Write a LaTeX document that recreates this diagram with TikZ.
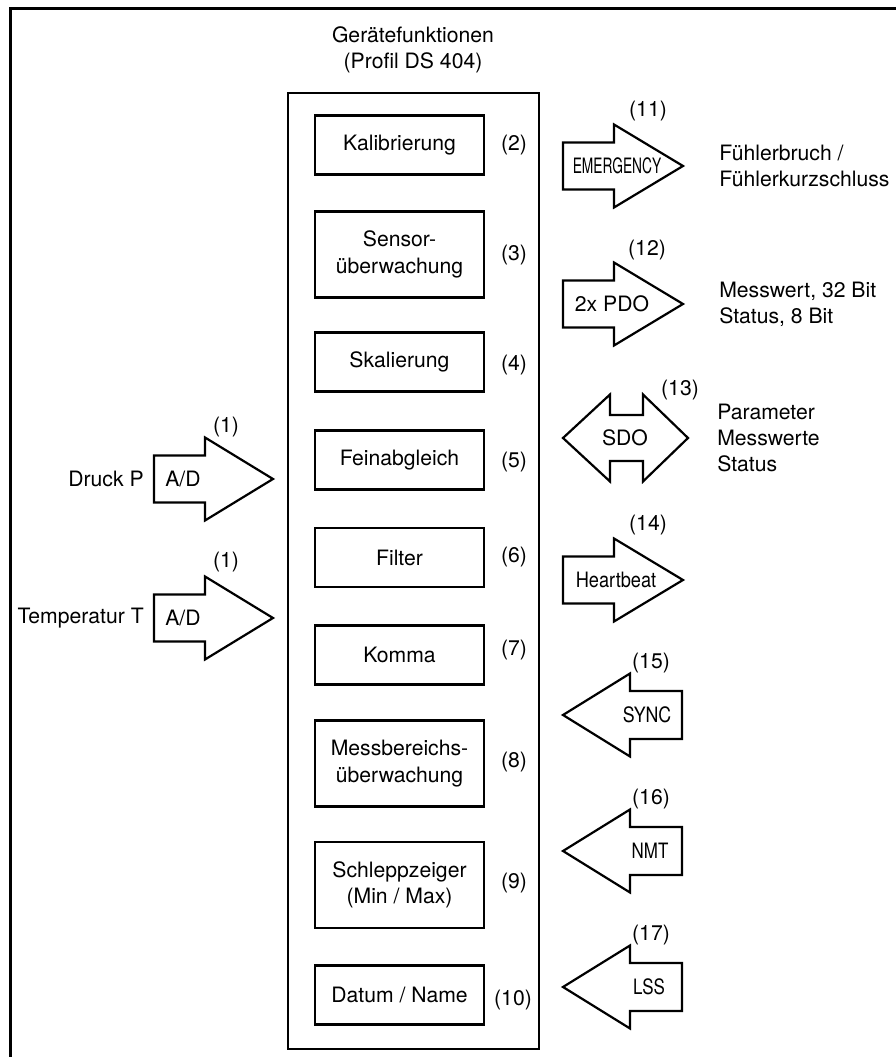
\documentclass[tikz,border=0pt]{standalone}
\usepackage{fontspec}
\setmainfont{TeX Gyre Heros}
\usepackage{tikz}

\tikzset{
	frame/.style = {line width = 0.03in},
	mainbox/.style = {line width = 0.025in},
	funcbox/.style = {draw, line width = 0.025in, minimum width = 1.69in, minimum height = 0.59in, align = center, inner sep = 0},
	tallbox/.style = {funcbox, minimum height = 0.86in},
	blockarrow/.style = {draw, line width = 0.022in, line join = miter, fill = white},
	num/.style = {draw = none, inner sep = 0},
	note/.style = {draw = none, align = left, anchor = west, inner sep = 0}
}

\begin{document}
\begin{tikzpicture}[font = \fontsize{15.3pt}{19pt}\selectfont]
		\useasboundingbox (0in,0in) rectangle (8.96in,10.57in);
		% Outer frame (cut at right and bottom)
		\draw [frame] (0.10in,-0.2in) -- (0.10in,10.48in) -- (9.2in,10.48in);
		% Device functions
		\node [draw = none, align = center] (title) at (4.13in,10.07in) {Gerätefunktionen\\(Profil DS 404)};
		\draw [mainbox] (2.88in,0.08in) rectangle (5.39in,9.64in);
		\node [funcbox] (kalib) at (3.995in,9.12in) {Kalibrierung};
		\node [tallbox] (sensor) at (3.995in,8.025in) {Sensor-\\überwachung};
		\node [funcbox] (skal) at (3.995in,6.95in) {Skalierung};
		\node [funcbox] (fein) at (3.995in,5.97in) {Feinabgleich};
		\node [funcbox] (filter) at (3.995in,4.995in) {Filter};
		\node [funcbox] (komma) at (3.995in,4.02in) {Komma};
		\node [tallbox] (messb) at (3.995in,2.935in) {Messbereichs-\\überwachung};
		\node [tallbox] (schlepp) at (3.995in,1.72in) {Schleppzeiger\\(Min / Max)};
		\node [funcbox] (datum) at (3.995in,0.62in) {Datum / Name};
		% Function numbers
		\node [num] (n2) at (5.14in,9.12in) {(2)};
		\node [num] (n3) at (5.14in,8.02in) {(3)};
		\node [num] (n4) at (5.14in,6.92in) {(4)};
		\node [num] (n5) at (5.14in,5.95in) {(5)};
		\node [num] (n6) at (5.14in,5.00in) {(6)};
		\node [num] (n7) at (5.14in,4.07in) {(7)};
		\node [num] (n8) at (5.14in,2.95in) {(8)};
		\node [num] (n9) at (5.14in,1.74in) {(9)};
		\node [num] (n10) at (5.13in,0.57in) {(10)};
		% Inputs, A/D
		\draw [blockarrow] (1.54in,6.015in) -- ++(0.51in,0in) -- ++(0in,0.18in) -- ++(0.68in,-0.415in) -- ++(-0.68in,-0.415in) -- ++(0in,0.18in) -- ++(-0.51in,0in) -- cycle;
		\node [num] (adp) at (1.83in,5.78in) {A/D};
		\node [num] (n1p) at (2.26in,6.30in) {(1)};
		\node [num, anchor = east] (druck) at (1.44in,5.78in) {Druck P};
		\draw [blockarrow] (1.54in,4.625in) -- ++(0.51in,0in) -- ++(0in,0.18in) -- ++(0.68in,-0.415in) -- ++(-0.68in,-0.415in) -- ++(0in,0.18in) -- ++(-0.51in,0in) -- cycle;
		\node [num] (adt) at (1.83in,4.39in) {A/D};
		\node [num] (n1t) at (2.26in,4.95in) {(1)};
		\node [num, anchor = east] (temp) at (1.44in,4.39in) {Temperatur T};
		% EMERGENCY
		\draw [blockarrow] (5.63in,9.145in) -- ++(0.51in,0in) -- ++(0in,0.18in) -- ++(0.69in,-0.415in) -- ++(-0.69in,-0.415in) -- ++(0in,0.18in) -- ++(-0.51in,0in) -- cycle;
		\node [num] (emcy) at (6.17in,8.91in) {\scalebox{0.65}[1]{EMERGENCY}};
		\node [num] (n11) at (6.48in,9.46in) {(11)};
		\node [note] (emcytext) at (7.19in,8.91in) {Fühlerbruch /\\Fühlerkurzschluss};
		% PDO
		\draw [blockarrow] (5.63in,7.765in) -- ++(0.51in,0in) -- ++(0in,0.18in) -- ++(0.69in,-0.415in) -- ++(-0.69in,-0.415in) -- ++(0in,0.18in) -- ++(-0.51in,0in) -- cycle;
		\node [num] (pdo) at (6.12in,7.53in) {2x PDO};
		\node [num] (n12) at (6.47in,8.07in) {(12)};
		\node [note] (pdotext) at (7.19in,7.53in) {Messwert, 32 Bit\\Status, 8 Bit};
		% SDO
		\draw [blockarrow] (5.63in,6.19in) -- ++(0.47in,0.435in) -- ++(0in,-0.205in) -- ++(0.33in,0in) -- ++(0in,0.205in) -- ++(0.45in,-0.435in) -- ++(-0.45in,-0.435in) -- ++(0in,0.205in) -- ++(-0.33in,0in) -- ++(0in,-0.205in) -- cycle;
		\node [num] (sdo) at (6.25in,6.19in) {SDO};
		\node [num] (n13) at (6.80in,6.67in) {(13)};
		\node [note] (sdotext) at (7.17in,6.19in) {Parameter\\Messwerte\\Status};
		% Heartbeat
		\draw [blockarrow] (5.63in,5.005in) -- ++(0.51in,0in) -- ++(0in,0.18in) -- ++(0.69in,-0.415in) -- ++(-0.69in,-0.415in) -- ++(0in,0.18in) -- ++(-0.51in,0in) -- cycle;
		\node [num] (hb) at (6.16in,4.77in) {\scalebox{0.86}[1]{Heartbeat}};
		\node [num] (n14) at (6.48in,5.32in) {(14)};
		% SYNC
		\draw [blockarrow] (6.82in,3.66in) -- ++(-0.52in,0in) -- ++(0in,0.175in) -- ++(-0.67in,-0.415in) -- ++(0.67in,-0.415in) -- ++(0in,0.175in) -- ++(0.52in,0in) -- cycle;
		\node [num] (sync) at (6.47in,3.42in) {\scalebox{0.84}[1]{SYNC}};
		\node [num] (n15) at (6.51in,3.94in) {(15)};
		% NMT
		\draw [blockarrow] (6.82in,2.30in) -- ++(-0.52in,0in) -- ++(0in,0.175in) -- ++(-0.67in,-0.415in) -- ++(0.67in,-0.415in) -- ++(0in,0.175in) -- ++(0.52in,0in) -- cycle;
		\node [num] (nmt) at (6.50in,2.06in) {\scalebox{0.8}[1]{NMT}};
		\node [num] (n16) at (6.51in,2.58in) {(16)};
		% LSS
		\draw [blockarrow] (6.82in,0.94in) -- ++(-0.52in,0in) -- ++(0in,0.175in) -- ++(-0.67in,-0.415in) -- ++(0.67in,-0.415in) -- ++(0in,0.175in) -- ++(0.52in,0in) -- cycle;
		\node [num] (lss) at (6.49in,0.70in) {\scalebox{0.8}[1]{LSS}};
		\node [num] (n17) at (6.51in,1.22in) {(17)};
\end{tikzpicture}
\end{document}
